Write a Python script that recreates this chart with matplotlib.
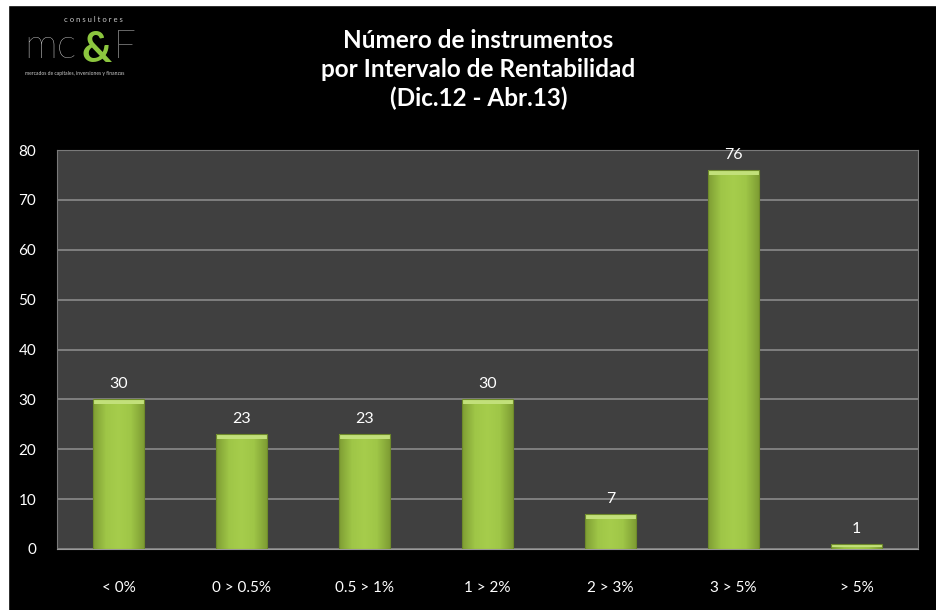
import numpy as np
import matplotlib.pyplot as plt
from matplotlib.patches import Rectangle
from matplotlib.colors import LinearSegmentedColormap

categories = ['< 0%', '0 > 0.5%', '0.5 > 1%', '1 > 2%', '2 > 3%', '3 > 5%', '> 5%']
counts = [30, 23, 23, 30, 7, 76, 1]

plt.rcParams['font.family'] = ['Lato', 'DejaVu Sans']

W, H = 936, 610
fig = plt.figure(figsize=(W / 100, H / 100), dpi=100, facecolor='black')
ax = fig.add_axes([0.061, 0.1, 0.92, 0.654])
ax.set_facecolor('#404040')

# white strips along the left and top edge
fig.patches.append(Rectangle((0, 0), 8 / W, 1, transform=fig.transFigure,
                             color='white', zorder=-1))
fig.patches.append(Rectangle((0, 1 - 5 / H), 1, 5 / H, transform=fig.transFigure,
                             color='white', zorder=-1))

x = np.arange(len(categories))
width = 0.41

# bars with a soft horizontal shading and a bevelled top
shade = LinearSegmentedColormap.from_list('g', ['#7f9e34', '#9fc647', '#a6cd4c', '#9fc647', '#7f9e34'])
grad = np.linspace(0, 1, 64).reshape(1, -1)
for xi, v in zip(x, counts):
    left = xi - width / 2
    ax.imshow(grad, extent=(left, left + width, 0, v), aspect='auto', cmap=shade,
              zorder=3, interpolation='bicubic')
    bevel = min(1.0, v * 0.5)
    ax.add_patch(Rectangle((left, v - bevel), width, bevel, color='#c2e07a', zorder=4, lw=0))
    ax.add_patch(Rectangle((left, 0), width, v, fill=False, ec='#6e8a2a', lw=0.8, zorder=5))
    ax.text(xi, v + 1.6, str(v), ha='center', va='bottom', color='white', fontsize=11.5)

ax.set_xlim(-0.5, len(categories) - 0.5)
ax.set_ylim(0, 80)
ax.set_yticks(range(0, 81, 10))
ax.set_xticks(x)
ax.set_xticklabels(categories)
ax.grid(axis='y', color='#8a8a8a', lw=1.2, zorder=1)
ax.set_axisbelow(True)
ax.tick_params(colors='white', labelsize=11, length=0)
ax.tick_params(axis='x', pad=23)
ax.tick_params(axis='y', pad=15)
for s in ax.spines.values():
    s.set_color('#7a7a7a')
ax.spines['bottom'].set_color('#9a9a9a')

fig.text(0.511, 0.886, 'Número de instrumentos\npor Intervalo de Rentabilidad\n(Dic.12 - Abr.13)',
         ha='center', va='center', color='white', fontsize=17.5, fontweight='bold',
         linespacing=1.28)

# company logo
def px(xp, yp):
    return xp / W, 1 - yp / H

fig.text(*px(93, 19), 'c o n s u l t o r e s', color='#cccccc', fontsize=5.5,
         ha='center', va='center')
fig.text(*px(24, 47), 'mc', color='#e6e6e6', fontsize=30, ha='left', va='center',
         fontweight='light')
fig.text(*px(97, 50), '&', color='#8cc63f', fontsize=30, ha='center', va='center',
         fontweight='bold')
fig.text(*px(113, 47), 'F', color='#e6e6e6', fontsize=28, ha='left', va='center',
         fontweight='light')
fig.text(*px(75, 74), 'mercados de capitales, inversiones y finanzas', color='#cccccc',
         fontsize=3.6, ha='center', va='center')

fig.savefig('out.png', dpi=100, facecolor='black')
